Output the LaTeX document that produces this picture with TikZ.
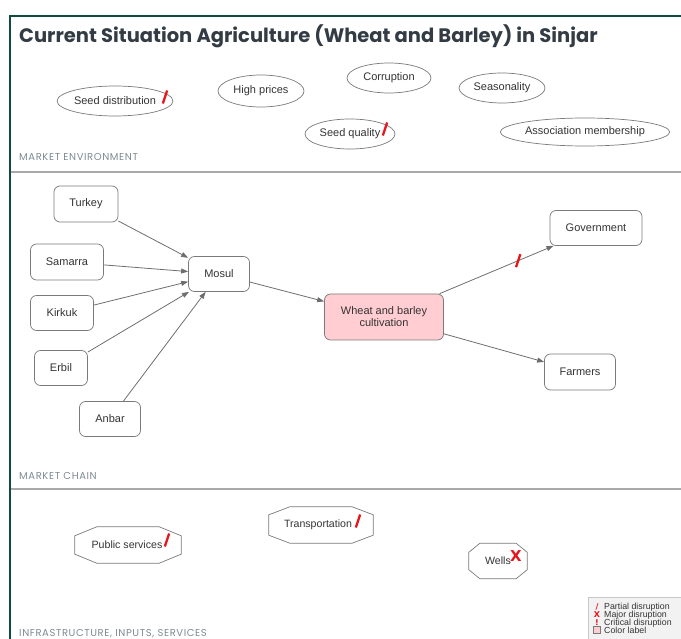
\documentclass[tikz,border=0pt]{standalone}
\usepackage{fontspec}
\setmainfont{Liberation Sans}
\newfontfamily\titlefont{Poppins}
\newfontfamily\secfont{Poppins}[LetterSpace=6]
\newfontfamily\markfont{DejaVu Sans}
\usetikzlibrary{shapes.geometric,arrows.meta,calc}
\definecolor{framegreen}{HTML}{0E4B3E}
\definecolor{titlegray}{HTML}{333C44}
\definecolor{seclabel}{HTML}{7D8B93}
\definecolor{divgray}{HTML}{A9A9A9}
\definecolor{edgegray}{HTML}{6E6E6E}
\definecolor{boxgray}{HTML}{7A7A7A}
\definecolor{txtgray}{HTML}{333333}
\definecolor{pinkfill}{HTML}{FFCDD2}
\definecolor{disred}{HTML}{E8141B}
\definecolor{legfill}{HTML}{F2F2F2}
\definecolor{legdraw}{HTML}{C8C8C8}
\newcommand\octagonframe[3]{\draw[octoline] ($(#1.north west)+(#2,0)$) -- ($(#1.north east)+(-#2,0)$) -- ($(#1.north east)+(0,#3)$) -- ($(#1.south east)+(0,-#3)$) -- ($(#1.south east)+(-#2,0)$) -- ($(#1.south west)+(#2,0)$) -- ($(#1.south west)+(0,-#3)$) -- ($(#1.north west)+(0,#3)$) -- cycle;}
\newcommand\partialslash[1]{\draw[slashline] ($(#1)+(-2.2,6.5)$) -- ($(#1)+(2.2,-6.5)$);}
\begin{document}
\begin{tikzpicture}[x=1pt,y=-1pt,
  every node/.style={font=\fontsize{11}{13}\selectfont, text=txtgray},
  envnode/.style={ellipse, draw=boxgray, line width=0.7pt, inner sep=0pt},
  chainnode/.style={rectangle, rounded corners=6pt, draw=boxgray, line width=0.7pt, fill=white, inner sep=0pt, align=center},
  infranode/.style={inner sep=0pt, draw=none},
  infratext/.style={inner sep=0pt, font=\fontsize{10.6}{12}\selectfont},
  octoline/.style={draw=boxgray, line width=0.7pt},
  flow/.style={draw=edgegray, line width=0.8pt, -{Triangle[length=7pt,width=5pt]}},
  slashline/.style={draw=disred, line width=2.3pt},
  majormark/.style={text=disred, font=\markfont\bfseries\fontsize{15}{15}\selectfont, inner sep=0pt},
  seclabelstyle/.style={anchor=base west, inner sep=0pt, text=seclabel, font=\secfont\fontsize{10}{11}\selectfont},
  legtext/.style={anchor=base west, inner sep=0pt, font=\fontsize{8.8}{9}\selectfont},
  legmark/.style={anchor=base, inner sep=0pt, text=disred, font=\markfont\bfseries\fontsize{8}{9}\selectfont},
  divider/.style={draw=divgray, line width=2pt},
  framestyle/.style={draw=framegreen, line width=2.5pt}
]
\useasboundingbox (0,0) rectangle (681,639);
% frame
\coordinate (ftr) at (681,16);
\coordinate (ftl) at (10,16);
\coordinate (fbl) at (10,639);
\draw[framestyle] (ftr) -- (ftl) -- (fbl);
% dividers
\coordinate (d1l) at (11,172);
\coordinate (d1r) at (681,172);
\coordinate (d2l) at (11,489);
\coordinate (d2r) at (681,489);
\draw[divider] (d1l) -- (d1r);
\draw[divider] (d2l) -- (d2r);
% title
\node[anchor=base west, inner sep=0pt, text=titlegray, font=\titlefont\bfseries\fontsize{19.5}{21}\selectfont] (title) at (19,43) {Current Situation Agriculture (Wheat and Barley) in Sinjar};
% market environment
\node[envnode, minimum width=100pt, minimum height=30pt] (seeddist) at (115,101) {Seed distribution};
\node[envnode, minimum width=86pt, minimum height=32pt] (highprices) at (261,91) {High prices};
\node[envnode, minimum width=84pt, minimum height=30pt] (corruption) at (389,78) {Corruption};
\node[envnode, minimum width=86pt, minimum height=30pt] (seasonality) at (502,88) {Seasonality};
\node[envnode, minimum width=90pt, minimum height=30pt] (seedqual) at (350,134) {Seed quality};
\node[envnode, minimum width=152pt, minimum height=28pt] (assoc) at (585,132) {Association membership};
\coordinate (m1) at (165,97);
\coordinate (m2) at (385,129);
\partialslash{m1}
\partialslash{m2}
\node[seclabelstyle] (lenv) at (19,161) {MARKET ENVIRONMENT};
% market chain
\node[chainnode, minimum width=64pt, minimum height=36pt] (turkey) at (86,204) {Turkey};
\node[chainnode, minimum width=73pt, minimum height=36pt] (samarra) at (67,262) {Samarra};
\node[chainnode, minimum width=63pt, minimum height=35pt] (kirkuk) at (62,313) {Kirkuk};
\node[chainnode, minimum width=53pt, minimum height=35pt] (erbil) at (61,368) {Erbil};
\node[chainnode, minimum width=61pt, minimum height=35pt] (anbar) at (110,419) {Anbar};
\node[chainnode, minimum width=61pt, minimum height=35pt] (mosul) at (219,274) {Mosul};
\node[chainnode, fill=pinkfill, minimum width=119pt, minimum height=46pt, font=\fontsize{11}{12}\selectfont] (wheat) at (384,317) {Wheat and barley\\cultivation};
\node[chainnode, minimum width=92pt, minimum height=35pt] (gov) at (596,228) {Government};
\node[chainnode, minimum width=71pt, minimum height=36pt] (farmers) at (580,372) {Farmers};
\draw[flow] (turkey) -- (mosul);
\draw[flow] (samarra) -- (mosul);
\draw[flow] (kirkuk) -- (mosul);
\draw[flow] (erbil) -- (mosul);
\draw[flow] (anbar) -- (mosul);
\draw[flow] (mosul) -- (wheat);
\draw[flow] (wheat) -- coordinate[pos=0.69] (m3) (gov);
\draw[flow] (wheat) -- (farmers);
\partialslash{m3}
\node[seclabelstyle] (lchain) at (19,479) {MARKET CHAIN};
% infrastructure
\node[infranode, minimum width=106pt, minimum height=36pt] (pub) at (128,545) {};
\node[infratext] (pubtext) at (127,545) {Public services};
\node[infranode, minimum width=104pt, minimum height=36pt] (trans) at (321,525) {};
\node[infratext] (transtext) at (318,525) {Transportation};
\node[infranode, minimum width=58pt, minimum height=35pt] (wells) at (498,561) {};
\node[infratext] (wellstext) at (498,561) {Wells};
\octagonframe{pub}{22}{9}
\octagonframe{trans}{21}{8}
\octagonframe{wells}{11}{9}
\coordinate (m4) at (167,540);
\coordinate (m5) at (358,521);
\partialslash{m4}
\partialslash{m5}
\node[majormark] (m6) at (516,556) {X};
\node[seclabelstyle] (linfra) at (19,636) {INFRASTRUCTURE, INPUTS, SERVICES};
% legend
\node[draw=legdraw, fill=legfill, line width=0.6pt, minimum width=100pt, minimum height=50pt, anchor=north west, inner sep=0pt] (legend) at (588,597) {};
\node[legmark] (lm1) at (597,609) {/};
\node[legtext] (lt1) at (604,609) {Partial disruption};
\node[legmark] (lm2) at (597,617) {X};
\node[legtext] (lt2) at (604,617) {Major disruption};
\node[legmark] (lm3) at (597,625) {!};
\node[legtext] (lt3) at (604,625) {Critical disruption};
\node[draw=boxgray, fill=pinkfill, line width=0.5pt, minimum size=7pt, inner sep=0pt] (lm4) at (597,630) {};
\node[legtext] (lt4) at (604,633) {Color label};
\end{tikzpicture}
\end{document}
